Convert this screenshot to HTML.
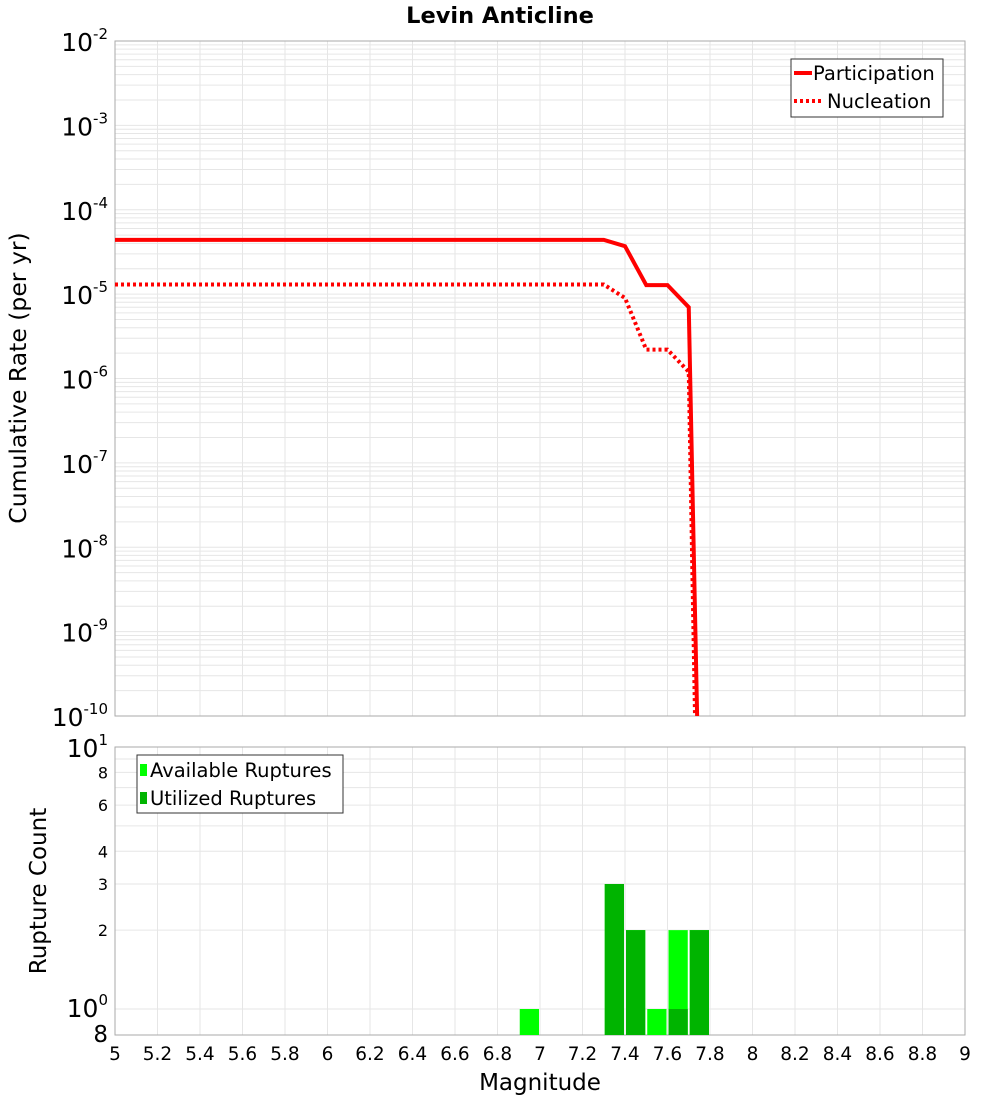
<!DOCTYPE html>
<html><head><meta charset="utf-8"><style>
body{margin:0;background:#fff;font-family:"Liberation Sans",sans-serif}
svg text{font-family:"DejaVu Sans","Liberation Sans",sans-serif}
</style></head><body>
<svg id="c" width="1000" height="1100" xmlns="http://www.w3.org/2000/svg"></svg>
<script>
const partMag=[5,7.3,7.4,7.5,7.6,7.7,7.74];
const partRate=[4.4e-5,4.4e-5,3.7e-5,1.28e-5,1.28e-5,7e-6,5e-11];
const nuclMag=[5,7.3,7.4,7.5,7.6,7.7,7.73];
const nuclRate=[1.3e-5,1.3e-5,9e-6,2.2e-6,2.2e-6,1.2e-6,5e-11];
const binCenters=[6.95,7.35,7.45,7.55,7.65,7.75];
const availCounts=[1,3,2,1,2,2];
const utilCounts=[0,3,2,0,1,2];
const xTicks=[5,5.2,5.4,5.6,5.8,6,6.2,6.4,6.6,6.8,7,7.2,7.4,7.6,7.8,8,8.2,8.4,8.6,8.8,9];
const yDecades=[-2,-3,-4,-5,-6,-7,-8,-9,-10];
const y2Ticks=[2,3,4,6,8];

const S=document.getElementById('c');const NS='http://www.w3.org/2000/svg';
function mk(t,a,p){const e=document.createElementNS(NS,t);for(const k in a)e.setAttribute(k,a[k]);(p||S).appendChild(e);return e;}
const X0=115,X1=965;
const xs=m=>X0+(m-5)/4*(X1-X0);
const T0=41,T1=716;
const ys=v=>T0+(-2-Math.log10(v))/8*(T1-T0);
const B0=747,B1=1035;
const yb=v=>1009-Math.log10(v)*262;

const gt=mk('g',{});

for(let d=-10;d<-2;d++)for(let k=1;k<10;k++){const y=ys(k*Math.pow(10,d));mk('line',{x1:X0,x2:X1,y1:y,y2:y,stroke:'#e6e6e6','stroke-width':1},gt);}
for(const t of xTicks){const x=xs(t);mk('line',{x1:x,x2:x,y1:T0,y2:T1,stroke:'#e6e6e6'},gt);mk('line',{x1:x,x2:x,y1:B0,y2:B1,stroke:'#e6e6e6'},gt);}
for(let k=1;k<=10;k++){const y=yb(k);mk('line',{x1:X0,x2:X1,y1:y,y2:y,stroke:'#e6e6e6'},gt);}
const fr1=mk('rect',{x:X0,y:T0,width:X1-X0,height:T1-T0,fill:'none',stroke:'#aaa'});

const fr2=mk('rect',{x:X0,y:B0,width:X1-X0,height:B1-B0,fill:'none',stroke:'#aaa'});


for(const d of yDecades){const t=mk('text',{x:108,y:ys(Math.pow(10,d))+10,'text-anchor':'end','font-size':25});

t.innerHTML='10<tspan dy="-12" font-size="15">'+d+'</tspan>';}
const l1=mk('text',{x:108,y:yb(10)+10,'text-anchor':'end','font-size':25});l1.innerHTML='10<tspan dy="-12" font-size="15">1</tspan>';

const l0=mk('text',{x:108,y:yb(1)+8,'text-anchor':'end','font-size':25});l0.innerHTML='10<tspan dy="-12" font-size="15">0</tspan>';

for(const v of y2Ticks){const t=mk('text',{x:108,y:yb(v)+6,'text-anchor':'end','font-size':16});t.textContent=v;
}
const l8=mk('text',{x:108,y:1042,'text-anchor':'end','font-size':23});l8.textContent='8';


for(const t of xTicks){const e=mk('text',{x:xs(t),y:1060,'text-anchor':'middle','font-size':18.5});e.textContent=String(t);
}

const bw=0.1*(X1-X0)/4;
binCenters.forEach((c,i)=>{
 if(availCounts[i]>0){const y=yb(availCounts[i]);const r=mk('rect',{x:xs(c)-bw/2+1,y:y,width:bw-2,height:B1-y,fill:'#00ff00'});
 }
 if(utilCounts[i]>0){const y=yb(utilCounts[i]);const r=mk('rect',{x:xs(c)-bw/2+1,y:y,width:bw-2,height:B1-y,fill:'#00b400'});
 }
});

function pts(m,r){return m.map((v,i)=>xs(v)+','+Math.min(ys(r[i]),T1+6)).join(' ');}
mk('clipPath',{id:'cp'});mk('rect',{x:X0,y:T0,width:X1-X0,height:T1-T0},document.getElementById('cp'));
const pl=mk('polyline',{points:pts(partMag,partRate),fill:'none',stroke:'#ff0000','stroke-width':4,'clip-path':'url(#cp)'});

const nl=mk('polyline',{points:pts(nuclMag,nuclRate),fill:'none',stroke:'#ff0000','stroke-width':4,'stroke-dasharray':'3,3','clip-path':'url(#cp)'});

</script>
<svg style="position:absolute;left:0;top:0" width="1000" height="1100" xmlns="http://www.w3.org/2000/svg">
<text x="500" y="23" text-anchor="middle" font-size="22.5" font-weight="bold" font-family="DejaVu Sans,sans-serif">Levin Anticline</text>
<text transform="translate(26,378) rotate(-90)" text-anchor="middle" font-size="23.5" font-family="DejaVu Sans,sans-serif">Cumulative Rate (per yr)</text>
<text transform="translate(46,891) rotate(-90)" text-anchor="middle" font-size="23" font-family="DejaVu Sans,sans-serif">Rupture Count</text>
<text x="540" y="1090" text-anchor="middle" font-size="23" font-family="DejaVu Sans,sans-serif">Magnitude</text>
<g font-family="DejaVu Sans,sans-serif" font-size="19.5">
<rect x="791" y="59" width="152" height="58" fill="#fff" stroke="#333"/>
<line x1="794" y1="73" x2="812" y2="73" stroke="#ff0000" stroke-width="4"/>
<text x="813" y="80">Participation</text>
<line x1="794" y1="101" x2="822" y2="101" stroke="#ff0000" stroke-width="4" stroke-dasharray="3,3"/>
<text x="827" y="108">Nucleation</text>
</g>
<g font-family="DejaVu Sans,sans-serif" font-size="19.5">
<rect x="137" y="755" width="206" height="58" fill="#fff" stroke="#333"/>
<rect x="140" y="764" width="7" height="12" fill="#00ff00"/>
<text x="150" y="777">Available Ruptures</text>
<rect x="140" y="792" width="7" height="12" fill="#00b400"/>
<text x="150" y="805">Utilized Ruptures</text>
</g>
</svg>
</body></html>
